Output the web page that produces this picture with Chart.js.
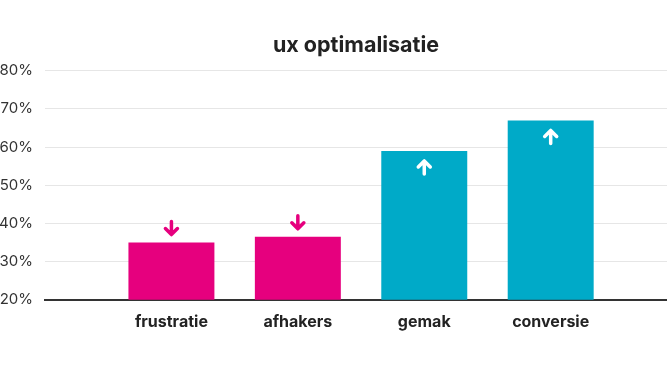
<!DOCTYPE html>
<html>
<head>
<meta charset="utf-8">
<script src="https://cdn.jsdelivr.net/npm/chart.js@4"></script>
<style>
  html, body { margin: 0; padding: 0; background: #fff; }
  #wrap { width: 667px; height: 389px; }
</style>
</head>
<body>
<div id="wrap"><canvas id="uxChart"></canvas></div>
<script>
// chart data
const categories = ['frustratie', 'afhakers', 'gemak', 'conversie'];
const positions = [1, 2, 3, 4];
const values = [35, 36.5, 59, 67];
const trends = ['down', 'down', 'up', 'up'];
const yTicks = [20, 30, 40, 50, 60, 70, 80];

const pink = '#E6007E';
const cyan = '#00AAC8';

// arrows above / inside the bars
const arrowPlugin = {
    id: 'trendArrows',
    afterDatasetsDraw(chart) {
        const ctx = chart.ctx;
        const meta = chart.getDatasetMeta(0);
        meta.data.forEach(function(bar, i) {
            const down = trends[i] === 'down';
            const x = bar.x;
            let tip, tail;
            if (down) {
                tip = bar.y - 8;
                tail = tip - 13;
            } else {
                tip = bar.y + 10;
                tail = tip + 13;
            }
            const dir = down ? -1 : 1; // head opens away from tip
            ctx.save();
            ctx.strokeStyle = down ? pink : '#ffffff';
            ctx.lineWidth = 3.5;
            ctx.lineCap = 'round';
            ctx.lineJoin = 'round';
            ctx.beginPath();
            ctx.moveTo(x, tail);
            ctx.lineTo(x, tip);
            ctx.moveTo(x - 6, tip + dir * 6);
            ctx.lineTo(x, tip);
            ctx.lineTo(x + 6, tip + dir * 6);
            ctx.stroke();
            ctx.restore();
        });
    }
};

const ctx = document.getElementById('uxChart').getContext('2d');
new Chart(ctx, {
    type: 'bar',
    data: {
        datasets: [{
            data: positions.map((p, i) => ({ x: p, y: values[i] })),
            backgroundColor: values.map((v, i) => trends[i] === 'down' ? pink : cyan),
            barPercentage: 0.85,
            categoryPercentage: 0.8
        }]
    },
    options: {
        responsive: true,
        maintainAspectRatio: false,
        animation: false,
        layout: { padding: { top: 19, bottom: 44, left: 0, right: 0 } },
        plugins: {
            legend: { display: false },
            tooltip: { enabled: false },
            title: {
                display: true,
                text: 'ux optimalisatie',
                fullSize: false,
                color: '#222',
                font: { family: 'Inter', size: 21.5, weight: 'bold' },
                padding: { top: 14, bottom: 12 }
            }
        },
        scales: {
            x: {
                type: 'linear',
                offset: false,
                min: 0,
                max: 4.92,
                afterBuildTicks: function(axis) {
                    axis.ticks = positions.map(p => ({ value: p }));
                },
                afterFit: function(axis) {
                    axis.paddingLeft = 0;
                    axis.paddingRight = 0;
                },
                ticks: {
                    color: '#222',
                    padding: 13,
                    maxRotation: 0,
                    font: { family: 'Inter', size: 16, weight: 'bold' },
                    callback: function(v) { return categories[v - 1] || ''; }
                },
                grid: { display: false, drawTicks: false },
                border: { display: true, color: '#333', width: 2 }
            },
            y: {
                min: 20,
                max: 80,
                afterBuildTicks: function(axis) {
                    axis.ticks = yTicks.map(v => ({ value: v }));
                },
                afterFit: function(axis) {
                    axis.width = 45;
                },
                ticks: {
                    color: '#333',
                    padding: 12,
                    font: { family: 'Inter', size: 15 },
                    callback: function(v) { return v + '%'; }
                },
                grid: { color: '#e6e6e6', lineWidth: 1, drawTicks: false },
                border: { display: false }
            }
        }
    },
    plugins: [arrowPlugin]
});
</script>
</body>
</html>
